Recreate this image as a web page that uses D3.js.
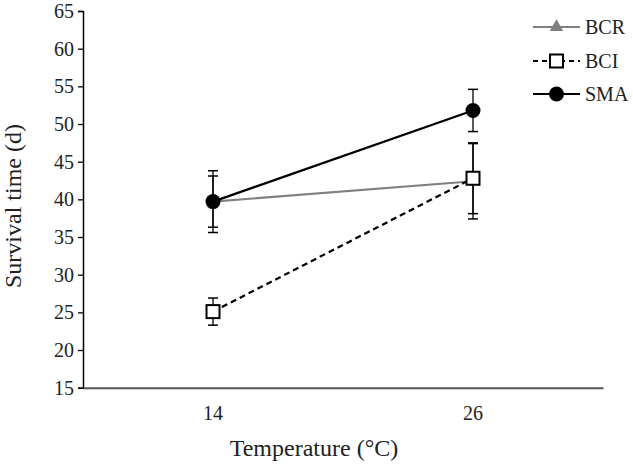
<!DOCTYPE html>
<html><head><meta charset="utf-8">
<script src="https://cdn.jsdelivr.net/npm/d3@7"></script>
<style>body{margin:0;background:#fff}svg{display:block}text{font-family:"Liberation Serif","Times New Roman",serif;fill:#222}</style>
</head><body><svg id="c" width="633" height="464"></svg>
<script>
const categories = ["14", "26"];
const seriesNames = ["BCR", "BCI", "SMA"];
const bcrValues = [39.7, 42.4];
const bcrErrors = [3.4, 5.0];
const bciValues = [25.1, 42.8];
const bciErrors = [1.8, 4.7];
const smaValues = [39.7, 51.8];
const smaErrors = [4.1, 2.8];
const yTicks = [15, 20, 25, 30, 35, 40, 45, 50, 55, 60, 65];

(function () {
const series = [
  {name: seriesNames[0], values: bcrValues, errors: bcrErrors, color: "#808080", dash: null, marker: "triangle"},
  {name: seriesNames[1], values: bciValues, errors: bciErrors, color: "#000", dash: "6,4", marker: "square"},
  {name: seriesNames[2], values: smaValues, errors: smaErrors, color: "#000", dash: null, marker: "circle"}
];

const svg = d3.select("#c");
const mLeft = 83, mRight = 603, mTop = 11, mBottom = 387.7;
const x = d3.scaleBand().domain(categories).range([mLeft, mRight]);
const y = d3.scaleLinear().domain([15, 65]).range([mBottom, mTop]);
const cx = c => x(c) + x.bandwidth() / 2;

// y axis
const ya = svg.append("g").attr("transform", `translate(${mLeft},0)`)
  .call(d3.axisLeft(y).tickValues(yTicks).tickSize(5).tickPadding(4));
ya.select(".domain").attr("stroke", "#000").attr("stroke-width", 1.5);
ya.selectAll(".tick line").attr("stroke", "#000").attr("stroke-width", 1.3);
ya.selectAll(".tick text").style("font-size", "20px").attr("fill", "#222");

// x axis
const xa = svg.append("g").attr("transform", `translate(0,${mBottom})`)
  .call(d3.axisBottom(x).tickSize(0).tickPadding(18));
xa.select(".domain").attr("stroke", "#555").attr("stroke-width", 2);
xa.selectAll(".tick text").style("font-size", "20px").attr("fill", "#222");

// axis titles
svg.append("text").attr("x", 314).attr("y", 456).attr("text-anchor", "middle")
  .style("font-size", "24px").text("Temperature (°C)");
svg.append("text").attr("transform", "translate(21,206) rotate(-90)").attr("text-anchor", "middle")
  .style("font-size", "24px").text("Survival time (d)");

function drawMarker(g, type, color, px, py) {
  if (type === "triangle") {
    g.append("path").attr("d", d3.symbol(d3.symbolTriangle, 80)())
      .attr("transform", `translate(${px},${py})`).attr("fill", color);
  } else if (type === "square") {
    g.append("rect").attr("x", px - 6.5).attr("y", py - 6.5).attr("width", 13).attr("height", 13)
      .attr("fill", "#fff").attr("stroke", "#000").attr("stroke-width", 2);
  } else {
    g.append("circle").attr("cx", px).attr("cy", py).attr("r", 7.5).attr("fill", "#000");
  }
}

const line = d3.line().x((d, i) => cx(categories[i])).y(d => y(d));
series.forEach(s => {
  const g = svg.append("g");
  g.append("path").datum(s.values).attr("d", line).attr("fill", "none")
    .attr("stroke", s.color).attr("stroke-width", 2.2).attr("stroke-dasharray", s.dash);
  s.values.forEach((v, i) => {
    const px = cx(categories[i]);
    const e = s.errors[i];
    g.append("line").attr("x1", px).attr("x2", px).attr("y1", y(v + e)).attr("y2", y(v - e))
      .attr("stroke", "#000").attr("stroke-width", 1.3);
    [v + e, v - e].forEach(t => g.append("line").attr("x1", px - 5).attr("x2", px + 5)
      .attr("y1", y(t)).attr("y2", y(t)).attr("stroke", "#000").attr("stroke-width", 1.5));
  });
  s.values.forEach((v, i) => drawMarker(g, s.marker, s.color, cx(categories[i]), y(v)));
});

// legend
const legY = [27, 61, 94];
series.forEach((s, i) => {
  const g = svg.append("g");
  g.append("line").attr("x1", 533).attr("x2", 580).attr("y1", legY[i]).attr("y2", legY[i])
    .attr("stroke", s.color).attr("stroke-width", 2).attr("stroke-dasharray", s.dash ? "5,4" : null);
  drawMarker(g, s.marker, s.color, 556.5, legY[i]);
  g.append("text").attr("x", 585).attr("y", legY[i] + 7).style("font-size", "20px").text(s.name);
});
})();
</script></body></html>
